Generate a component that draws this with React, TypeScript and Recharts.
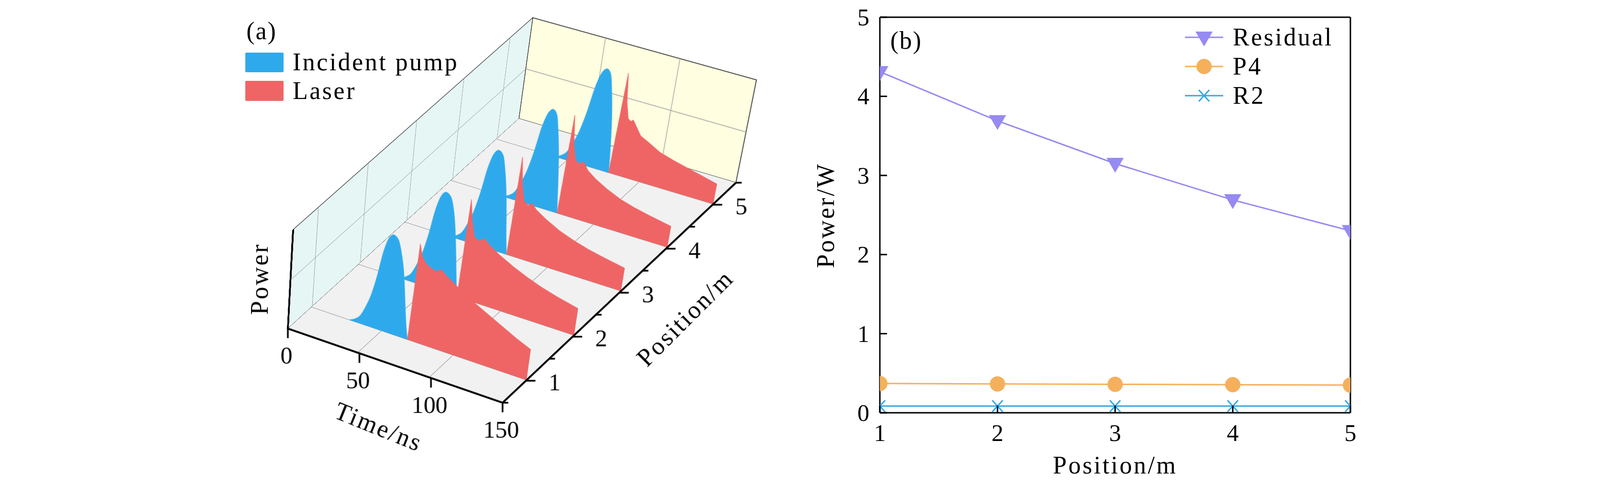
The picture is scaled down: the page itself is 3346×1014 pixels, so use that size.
import React from "react";
import {
  Area,
  AreaChart,
  Line,
  LineChart,
  ReferenceArea,
  ReferenceLine,
  XAxis,
  YAxis,
} from "recharts";

type Pt = [number, number];

const FONT = "'Liberation Serif', 'Times New Roman', serif";
const PUMP_COLOR = "#2eaaec";
const LASER_COLOR = "#ef6565";
const GRID_COLOR = "#a0a0a0";
const RESIDUAL_COLOR = "#968af3";
const P4_COLOR = "#f5b05c";
const R2_COLOR = "#35a7e2";

// ---- (a) pulses: [time in ns, normalised power] at each fibre position (m)
const fibrePositions = [1, 2, 3, 4, 5];

const pumpAt1: Pt[] = [[27, 0], [31, 0.03], [35, 0.09], [38, 0.19], [41, 0.32], [44, 0.52], [47, 0.78], [50, 0.93], [53, 0.975], [56, 0.95], [59, 0.83], [62, 0.63], [64, 0.42], [66, 0.2], [67.6, 0.06], [68.5, 0]];
const pumpAt2: Pt[] = [[29.5, 0], [33.5, 0.03], [37.5, 0.09], [40.5, 0.19], [43.5, 0.32], [46.5, 0.52], [49.5, 0.78], [52.5, 0.93], [55.5, 0.975], [58.5, 0.95], [61.5, 0.83], [64, 0.64], [66, 0.43], [68, 0.2], [69.3, 0.06], [70, 0]];
const pumpAt3: Pt[] = [[32.5, 0], [36.5, 0.03], [40.5, 0.09], [43.5, 0.19], [46.5, 0.32], [49.5, 0.52], [52.5, 0.78], [55.5, 0.93], [58.5, 0.975], [61.5, 0.94], [64, 0.8], [66.5, 0.6], [68.5, 0.38], [70.3, 0.16], [71.4, 0.05], [72, 0]];
const pumpAt4: Pt[] = [[37, 0], [41, 0.03], [45, 0.09], [48, 0.19], [51, 0.32], [54, 0.52], [57, 0.78], [60, 0.93], [63, 0.975], [65.5, 0.94], [68, 0.78], [70.5, 0.56], [72.5, 0.32], [74, 0.12], [75, 0]];
const pumpAt5: Pt[] = [[41.5, 0], [45.5, 0.03], [49.5, 0.09], [52.5, 0.19], [55.5, 0.32], [58.5, 0.52], [61.5, 0.78], [64.5, 0.93], [67.5, 0.975], [70, 0.94], [72.5, 0.78], [75, 0.56], [77, 0.32], [78.3, 0.12], [79, 0]];

const laserAt1: Pt[] = [[68.5, 0], [71, 0.97], [73, 0.86], [76, 0.8], [80, 0.77], [83, 0.76], [86.5, 0.79], [90, 0.75], [100, 0.66], [110, 0.58], [120, 0.51], [130, 0.44], [140, 0.37], [150, 0.31]];
const laserAt2: Pt[] = [[70, 0], [72.4, 0.98], [74.5, 0.78], [77, 0.64], [80, 0.61], [84, 0.65], [88, 0.6], [95, 0.54], [105, 0.47], [115, 0.41], [125, 0.36], [135, 0.32], [150, 0.27]];
const laserAt3: Pt[] = [[72, 0], [74.3, 0.975], [76.5, 0.72], [79, 0.57], [82, 0.54], [84.6, 0.57], [88, 0.52], [95, 0.46], [105, 0.39], [115, 0.34], [125, 0.3], [135, 0.27], [150, 0.23]];
const laserAt4: Pt[] = [[75, 0], [77.3, 0.976], [79.5, 0.7], [82, 0.56], [85, 0.54], [87.5, 0.57], [91, 0.5], [97, 0.44], [105, 0.38], [115, 0.32], [125, 0.28], [135, 0.25], [150, 0.21]];
const laserAt5: Pt[] = [[79, 0], [81.4, 0.99], [83.5, 0.72], [86, 0.57], [88, 0.55], [89.5, 0.57], [93, 0.5], [96, 0.44], [102, 0.4], [110, 0.34], [120, 0.3], [135, 0.25], [150, 0.2]];

const pumpPulses = [pumpAt1, pumpAt2, pumpAt3, pumpAt4, pumpAt5];
const laserPulses = [laserAt1, laserAt2, laserAt3, laserAt4, laserAt5];

const timeTicks = [0, 50, 100, 150];
const positionTicks = [0.5, 1, 1.5, 2, 2.5, 3, 3.5, 4, 4.5, 5, 5.5];
const wallPowerLines = [0.5];

// ---- (b) power along the fibre
const fibreM = [1, 2, 3, 4, 5];
const residualW = [4.31, 3.69, 3.15, 2.69, 2.3];
const p4W = [0.37, 0.365, 0.36, 0.355, 0.35];
const r2W = [0.085, 0.085, 0.085, 0.085, 0.085];
const powerTicks = [0, 1, 2, 3, 4, 5];

// ---- 3D box of (a) as seen on screen
const T_MAX = 150;
const P_MIN = 0.5;
const P_MAX = 5.5;
const FRONT_LEFT: Pt = [602, 687]; // t=0, p=0.5
const FRONT_RIGHT: Pt = [1051, 842]; // t=150, p=0.5
const BACK_RIGHT: Pt = [1539, 382]; // t=150, p=5.5
const BACK_LEFT: Pt = [1085, 248]; // t=0, p=5.5
// screen offset of power 0 -> 1 at each floor corner
const UP_FL: Pt = [11, -207];
const UP_FR: Pt = [28, -211];
const UP_BR: Pt = [43, -215];
const UP_BL: Pt = [29, -211];

const add = (a: Pt, b: Pt): Pt => [a[0] + b[0], a[1] + b[1]];
const lerp = (a: Pt, b: Pt, k: number): Pt => [a[0] + (b[0] - a[0]) * k, a[1] + (b[1] - a[1]) * k];

// projective map of the unit square onto a quad: (0,0), (1,0), (1,1), (0,1)
function squareToQuad(q: Pt[]) {
  const [[x0, y0], [x1, y1], [x2, y2], [x3, y3]] = q;
  const dx1 = x1 - x2, dx2 = x3 - x2, dx3 = x0 - x1 + x2 - x3;
  const dy1 = y1 - y2, dy2 = y3 - y2, dy3 = y0 - y1 + y2 - y3;
  const den = dx1 * dy2 - dx2 * dy1;
  const g = (dx3 * dy2 - dx2 * dy3) / den;
  const h = (dx1 * dy3 - dx3 * dy1) / den;
  return { a: x1 - x0 + g * x1, b: x3 - x0 + h * x3, c: x0, d: y1 - y0 + g * y1, e: y3 - y0 + h * y3, f: y0, g, h };
}

function onQuad(q: Pt[], u: number, v: number): Pt {
  const k = squareToQuad(q);
  const w = k.g * u + k.h * v + 1;
  return [(k.a * u + k.b * v + k.c) / w, (k.d * u + k.e * v + k.f) / w];
}

function quadTransform(q: Pt[], w: number, h: number, m: number) {
  const k = squareToQuad(q);
  const n = [
    [k.a / w, k.b / h, k.c - (k.a * m) / w - (k.b * m) / h],
    [k.d / w, k.e / h, k.f - (k.d * m) / w - (k.e * m) / h],
    [k.g / w, k.h / h, 1 - (k.g * m) / w - (k.h * m) / h],
  ];
  const css = `matrix3d(${n[0][0]},${n[1][0]},0,${n[2][0]},${n[0][1]},${n[1][1]},0,${n[2][1]},0,0,1,0,${n[0][2]},${n[1][2]},0,${n[2][2]})`;
  const det = n[0][0] * n[1][1] - n[0][1] * n[1][0];
  const inverse = `matrix(${n[1][1] / det},${-n[1][0] / det},${-n[0][1] / det},${n[0][0] / det},0,0)`;
  return { css, inverse };
}

const floorQuad: Pt[] = [BACK_LEFT, BACK_RIGHT, FRONT_RIGHT, FRONT_LEFT];
const floorAt = (t: number, p: number) => onQuad(floorQuad, t / T_MAX, (P_MAX - p) / (P_MAX - P_MIN));
const upAt = (t: number, p: number) => {
  const s = (p - P_MIN) / (P_MAX - P_MIN);
  const u = t / T_MAX;
  return lerp(lerp(UP_FL, UP_FR, u), lerp(UP_BL, UP_BR, u), s);
};
const sliceQuad = (p: number): Pt[] => {
  const b0 = floorAt(0, p);
  const b1 = floorAt(T_MAX, p);
  return [add(b0, upAt(0, p)), add(b1, upAt(T_MAX, p)), b1, b0];
};
const leftWallQuad: Pt[] = [add(FRONT_LEFT, UP_FL), add(BACK_LEFT, UP_BL), BACK_LEFT, FRONT_LEFT];
const backWallQuad: Pt[] = [add(BACK_LEFT, UP_BL), add(BACK_RIGHT, UP_BR), BACK_RIGHT, BACK_LEFT];
const axisQuad: Pt[] = [
  [FRONT_LEFT[0] + BACK_RIGHT[0] - FRONT_RIGHT[0], FRONT_LEFT[1] + BACK_RIGHT[1] - FRONT_RIGHT[1]],
  BACK_RIGHT,
  FRONT_RIGHT,
  FRONT_LEFT,
];

function Plane({ quad, w, h, m, extra = 0, children }: { quad: Pt[]; w: number; h: number; m: number; extra?: number; children: React.ReactNode }) {
  const { css } = quadTransform(quad, w, h, m);
  return (
    <div
      style={{
        position: "absolute",
        left: 0,
        top: 0,
        width: w + 2 * m + extra,
        height: h + 2 * m + extra,
        transformOrigin: "0 0",
        transform: css,
      }}
    >
      {children}
    </div>
  );
}

const MARGIN4 = { top: 4, right: 4, bottom: 4, left: 4 };
const timeRows = timeTicks.map((t) => ({ t }));

function Pulse({ p, pts, color, curve }: { p: number; pts: Pt[]; color: string; curve: "monotone" | "linear" }) {
  const rows = pts.map(([t, h]) => ({ t, h }));
  return (
    <Plane quad={sliceQuad(p)} w={450} h={210} m={4}>
      <AreaChart width={458} height={218} data={rows} margin={MARGIN4}>
        <XAxis type="number" dataKey="t" domain={[0, T_MAX]} hide allowDataOverflow />
        <YAxis type="number" domain={[0, 1]} hide allowDataOverflow />
        <Area
          type={curve}
          dataKey="h"
          stroke={color}
          strokeWidth={1}
          fill={color}
          fillOpacity={1}
          dot={false}
          activeDot={false}
          isAnimationActive={false}
        />
      </AreaChart>
    </Plane>
  );
}

function Label({ x, y, rotate = 0, size = 52, spacing = 3.5, children }: { x: number; y: number; rotate?: number; size?: number; spacing?: number; children: React.ReactNode }) {
  return (
    <div
      style={{
        position: "absolute",
        left: x,
        top: y,
        transform: `translate(-50%, -50%) rotate(${rotate}deg)`,
        fontSize: size,
        letterSpacing: spacing,
        lineHeight: 1,
        whiteSpace: "nowrap",
        fontFamily: FONT,
        color: "#000",
      }}
    >
      {children}
    </div>
  );
}

// ---- (b) markers
const TriangleDot = (props: any) => {
  const { cx, cy, fill } = props;
  if (cx == null || cy == null) return null;
  return <path d={`M${cx - 18},${cy - 12} L${cx + 18},${cy - 12} L${cx},${cy + 19} Z`} fill={fill ?? RESIDUAL_COLOR} />;
};
const CircleDot = (props: any) => {
  const { cx, cy, fill } = props;
  if (cx == null || cy == null) return null;
  return <circle cx={cx} cy={cy} r={16} fill={fill ?? P4_COLOR} />;
};
const CrossDot = (props: any) => {
  const { cx, cy, stroke } = props;
  if (cx == null || cy == null) return null;
  const c = stroke ?? R2_COLOR;
  return (
    <g>
      <line x1={cx - 11} y1={cy - 12} x2={cx + 11} y2={cy + 12} stroke={c} strokeWidth={3} />
      <line x1={cx - 11} y1={cy + 12} x2={cx + 11} y2={cy - 12} stroke={c} strokeWidth={3} />
    </g>
  );
};

const BottomTick = (props: any) => {
  const { x, y, payload } = props;
  return (
    <g>
      <line x1={x} y1={y} x2={x} y2={y - 15} stroke="#000" strokeWidth={3} />
      <text x={x} y={y + 42} textAnchor="middle" dominantBaseline="central" fontSize={50} fontFamily={FONT} fill="#000">
        {payload.value}
      </text>
    </g>
  );
};
const LeftTick = (props: any) => {
  const { x, y, payload } = props;
  return (
    <g>
      <line x1={x} y1={y} x2={x + 15} y2={y} stroke="#000" strokeWidth={3} />
      <text x={x - 22} y={y} textAnchor="end" dominantBaseline="central" fontSize={50} fontFamily={FONT} fill="#000">
        {payload.value}
      </text>
    </g>
  );
};

const seriesB = [
  { key: "residual", name: "Residual", color: RESIDUAL_COLOR, Dot: TriangleDot },
  { key: "p4", name: "P4", color: P4_COLOR, Dot: CircleDot },
  { key: "r2", name: "R2", color: R2_COLOR, Dot: CrossDot },
];

export default function App() {
  const AX_W = 477;
  const AX_H = 670;
  const AX_M = 160;
  const { inverse } = quadTransform(axisQuad, AX_W, AX_H, AX_M);

  const TimeTick = (props: any) => {
    const { x, y, payload } = props;
    return (
      <g transform={`translate(${x},${y}) ${inverse}`}>
        <line x1={0} y1={0} x2={0} y2={20} stroke="#000" strokeWidth={3.5} />
        <text x={-3} y={56} textAnchor="middle" dominantBaseline="central" fontSize={50} fontFamily={FONT} fill="#000">
          {payload.value}
        </text>
      </g>
    );
  };
  const PositionTick = (props: any) => {
    const { x, y, payload } = props;
    const major = Number.isInteger(payload.value);
    return (
      <g transform={`translate(${x},${y}) ${inverse}`}>
        <line x1={0} y1={0} x2={major ? 20 : 12} y2={0} stroke="#000" strokeWidth={3.5} />
        {major && (
          <text x={60} y={3} textAnchor="middle" dominantBaseline="central" fontSize={50} fontFamily={FONT} fill="#000">
            {payload.value}
          </text>
        )}
      </g>
    );
  };

  const rowsB = fibreM.map((m, i) => ({ m, residual: residualW[i], p4: p4W[i], r2: r2W[i] }));
  const innerTimes = timeTicks.filter((t) => t > 0 && t < T_MAX);

  return (
    <div
      style={{
        position: "absolute",
        left: 0,
        top: 0,
        width: 3346,
        height: 1014,
        background: "#fff",
        overflow: "hidden",
        fontFamily: FONT,
      }}
    >
      {/* ---------- (a) back wall ---------- */}
      <Plane quad={backWallQuad} w={470} h={210} m={4}>
        <AreaChart width={478} height={218} data={timeRows} margin={MARGIN4}>
          <XAxis type="number" dataKey="t" domain={[0, T_MAX]} hide allowDataOverflow />
          <YAxis type="number" domain={[0, 1]} hide allowDataOverflow />
          <ReferenceArea x1={0} x2={T_MAX} y1={0} y2={1} fill="#fffee0" fillOpacity={1} stroke="#222" strokeWidth={1.5} />
          {innerTimes.map((t) => (
            <ReferenceLine key={t} x={t} stroke={GRID_COLOR} strokeWidth={1.3} />
          ))}
          {wallPowerLines.map((h) => (
            <ReferenceLine key={h} y={h} stroke={GRID_COLOR} strokeWidth={1.3} />
          ))}
        </AreaChart>
      </Plane>

      {/* ---------- (a) left wall ---------- */}
      <Plane quad={leftWallQuad} w={650} h={210} m={4}>
        <AreaChart width={658} height={218} data={fibrePositions.map((p) => ({ p }))} margin={MARGIN4}>
          <XAxis type="number" dataKey="p" domain={[P_MIN, P_MAX]} hide allowDataOverflow />
          <YAxis type="number" domain={[0, 1]} hide allowDataOverflow />
          <ReferenceArea x1={P_MIN} x2={P_MAX} y1={0} y2={1} fill="#e5f6f5" fillOpacity={1} stroke="#222" strokeWidth={1.5} />
          {fibrePositions.map((p) => (
            <ReferenceLine key={p} x={p} stroke={GRID_COLOR} strokeWidth={1.3} />
          ))}
          {wallPowerLines.map((h) => (
            <ReferenceLine key={h} y={h} stroke={GRID_COLOR} strokeWidth={1.3} />
          ))}
          <ReferenceLine x={P_MIN} stroke="#000" strokeWidth={5} />
        </AreaChart>
      </Plane>

      {/* ---------- (a) floor ---------- */}
      <Plane quad={floorQuad} w={470} h={650} m={4}>
        <AreaChart width={478} height={658} data={timeRows} margin={MARGIN4}>
          <XAxis type="number" dataKey="t" domain={[0, T_MAX]} hide allowDataOverflow />
          <YAxis type="number" domain={[P_MIN, P_MAX]} hide allowDataOverflow />
          <ReferenceArea x1={0} x2={T_MAX} y1={P_MIN} y2={P_MAX} fill="#f1f1f1" fillOpacity={1} stroke="none" />
          {innerTimes.map((t) => (
            <ReferenceLine key={t} x={t} stroke={GRID_COLOR} strokeWidth={1.3} />
          ))}
          {fibrePositions.map((p) => (
            <ReferenceLine key={p} y={p} stroke={GRID_COLOR} strokeWidth={1.3} />
          ))}
        </AreaChart>
      </Plane>

      {/* ---------- (a) pulses, back to front ---------- */}
      {fibrePositions
        .map((p, i) => ({ p, i }))
        .reverse()
        .map(({ p, i }) => (
          <React.Fragment key={p}>
            <Pulse p={p} pts={pumpPulses[i]} color={PUMP_COLOR} curve="monotone" />
            <Pulse p={p} pts={laserPulses[i]} color={LASER_COLOR} curve="linear" />
          </React.Fragment>
        ))}

      {/* ---------- (a) time and position axes ---------- */}
      <Plane quad={axisQuad} w={AX_W} h={AX_H} m={AX_M} extra={1}>
        <AreaChart
          width={AX_W + 2 * AX_M + 1}
          height={AX_H + 2 * AX_M + 1}
          data={timeRows}
          margin={{ top: AX_M, right: AX_M, bottom: AX_M, left: AX_M }}
        >
          <XAxis
            type="number"
            dataKey="t"
            domain={[0, T_MAX]}
            ticks={timeTicks}
            interval={0}
            allowDataOverflow
            height={1}
            tickSize={0}
            tickMargin={0}
            tickLine={false}
            axisLine={{ stroke: "#000", strokeWidth: 4.5 }}
            tick={TimeTick}
          />
          <YAxis
            type="number"
            orientation="right"
            domain={[P_MIN, P_MAX]}
            ticks={positionTicks}
            interval={0}
            allowDataOverflow
            width={1}
            tickSize={0}
            tickMargin={0}
            tickLine={false}
            axisLine={{ stroke: "#000", strokeWidth: 4.5 }}
            tick={PositionTick}
          />
        </AreaChart>
      </Plane>

      <Label x={547} y={65} spacing={2}>(a)</Label>
      <div style={{ position: "absolute", left: 513, top: 110, width: 80, height: 41, background: PUMP_COLOR, borderRadius: 2 }} />
      <div style={{ position: "absolute", left: 513, top: 169, width: 80, height: 42, background: LASER_COLOR, borderRadius: 2 }} />
      <div style={{ position: "absolute", left: 612, top: 130, transform: "translateY(-50%)", fontSize: 52, letterSpacing: 3.5, lineHeight: 1, whiteSpace: "nowrap" }}>
        Incident pump
      </div>
      <div style={{ position: "absolute", left: 612, top: 190, transform: "translateY(-50%)", fontSize: 52, letterSpacing: 3.5, lineHeight: 1, whiteSpace: "nowrap" }}>
        Laser
      </div>
      <Label x={543} y={583} rotate={-90}>Power</Label>
      <Label x={792} y={893} rotate={22}>Time/ns</Label>
      <Label x={1433} y={665} rotate={-45}>Position/m</Label>

      {/* ---------- (b) ---------- */}
      <div style={{ position: "absolute", left: 1600, top: 0 }}>
        <LineChart width={1300} height={1014} data={rowsB} margin={{ top: 36, right: 76, bottom: 91, left: 180 }}>
          <XAxis
            type="number"
            dataKey="m"
            domain={[1, 5]}
            ticks={fibreM}
            interval={0}
            allowDataOverflow
            height={60}
            tickSize={0}
            tickMargin={0}
            tickLine={false}
            axisLine={{ stroke: "#000", strokeWidth: 3 }}
            tick={BottomTick}
          />
          <YAxis
            type="number"
            domain={[0, 5]}
            ticks={powerTicks}
            interval={0}
            allowDataOverflow
            width={60}
            tickSize={0}
            tickMargin={0}
            tickLine={false}
            axisLine={{ stroke: "#000", strokeWidth: 3 }}
            tick={LeftTick}
          />
          <ReferenceLine y={5} stroke="#000" strokeWidth={3} />
          <ReferenceLine x={5} stroke="#000" strokeWidth={3} />
          {seriesB.map((s) => (
            <Line
              key={s.key}
              type="linear"
              dataKey={s.key}
              name={s.name}
              stroke={s.color}
              strokeWidth={3}
              fill={s.color}
              dot={<s.Dot fill={s.color} stroke={s.color} />}
              activeDot={false}
              isAnimationActive={false}
            />
          ))}
        </LineChart>
      </div>

      <Label x={1895} y={85} spacing={2}>(b)</Label>
      {seriesB.map((s, i) => (
        <div key={s.key} style={{ position: "absolute", left: 2470, top: 78 + i * 61 - 25, height: 50, display: "flex", alignItems: "center" }}>
          <svg width={96} height={50}>
            <line x1={8} y1={25} x2={88} y2={25} stroke={s.color} strokeWidth={3} />
            <s.Dot cx={48} cy={25} fill={s.color} stroke={s.color} />
          </svg>
          <span style={{ marginLeft: 12, fontSize: 52, letterSpacing: 3.5, lineHeight: 1, whiteSpace: "nowrap" }}>{s.name}</span>
        </div>
      ))}
      <Label x={1727} y={450} rotate={-90}>Power/W</Label>
      <Label x={2332} y={973}>Position/m</Label>
    </div>
  );
}
